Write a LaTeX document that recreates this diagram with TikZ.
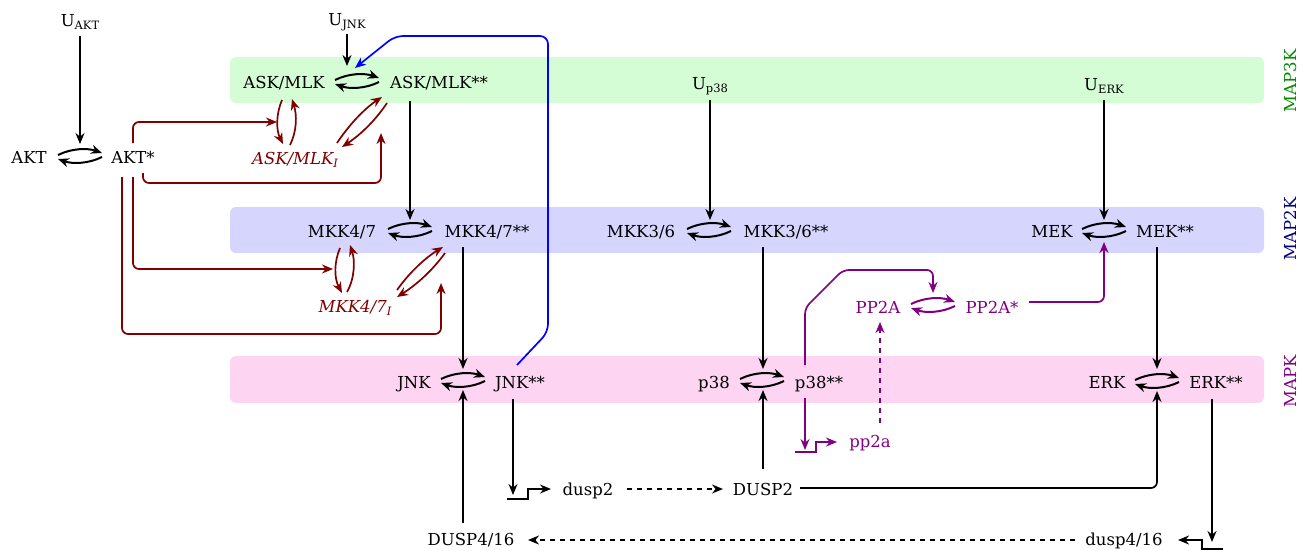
\documentclass[tikz,border=0pt]{standalone}
\usepackage{fontspec}
\setmainfont{DejaVu Serif}
\usetikzlibrary{arrows.meta}
\definecolor{bandG}{RGB}{213,253,213}
\definecolor{bandB}{RGB}{213,213,253}
\definecolor{bandP}{RGB}{253,213,243}
\definecolor{dred}{RGB}{128,0,0}
\definecolor{purp}{RGB}{128,0,128}
\definecolor{labG}{RGB}{0,140,0}
\definecolor{labB}{RGB}{0,0,128}
\newcommand\mysub[1]{\raisebox{-0.35ex}{\fontsize{11.5}{12}\selectfont #1}}
\newcommand\mycyc[1]{%
  \draw[cyc] ([shift={(-22,-1)}]#1) .. controls ([shift={(-8,-8)}]#1) and ([shift={(8,-8)}]#1) .. ([shift={(22,-3)}]#1);
  \draw[cyc] ([shift={(22,1)}]#1) .. controls ([shift={(8,8)}]#1) and ([shift={(-8,8)}]#1) .. ([shift={(-22,3)}]#1);}
\begin{document}
\begin{tikzpicture}[x=1pt,y=-1pt,
  every node/.style={font=\fontsize{16.5}{20}\selectfont, inner sep=0pt, anchor=base},
  arr/.style={-{Stealth[length=11pt,width=9pt]}, line width=1.7pt},
  dasharr/.style={arr, dashed, dash pattern=on 5pt off 5pt},
  cyc/.style={-{Stealth[length=11pt,width=9pt]}, line width=2pt},
  rc/.style={rounded corners=6pt},
  band/.style={rounded corners=6pt},
  sidelab/.style={rotate=90, anchor=center}]
\useasboundingbox (0,0) rectangle (1313,550);
% bands
\fill[bandG,band] (230,57) rectangle (1264,103);
\fill[bandB,band] (230,207) rectangle (1264,253);
\fill[bandP,band] (230,356) rectangle (1264,403);
\node[sidelab,text=labG] (l3) at (1290,81) {MAP3K};
\node[sidelab,text=labB] (l2) at (1290,229) {MAP2K};
\node[sidelab,text=purp] (l1) at (1290,381) {MAPK};
% nodes
\node (uakt) at (80,26) {U\mysub{AKT}};
\node (akt) at (29,163) {AKT};
\node (akts) at (133,163) {AKT*};
\node (ujnk) at (347,25) {U\mysub{JNK}};
\node (ask) at (284,88) {ASK/MLK};
\node (asks) at (439,88) {ASK/MLK**};
\node[text=dred] (aski) at (295,164) {\textit{ASK/MLK\mysub{\itshape I}}};
\node (up38) at (710,89) {U\mysub{p38}};
\node (uerk) at (1104,90) {U\mysub{ERK}};
\node (mkk) at (342,237) {MKK4/7};
\node (mkks) at (487,237) {MKK4/7**};
\node[text=dred] (mkki) at (355,312) {\textit{MKK4/7\mysub{\itshape I}}};
\node (mkt) at (641,237) {MKK3/6};
\node (mkts) at (786,237) {MKK3/6**};
\node (mek) at (1052,237) {MEK};
\node (meks) at (1165,237) {MEK**};
\node[text=purp] (pp) at (878,313) {PP2A};
\node[text=purp] (pps) at (992,313) {PP2A*};
\node (jnk) at (414,388) {JNK};
\node (jnks) at (520,388) {JNK**};
\node (p38) at (714,388) {p38};
\node (p38s) at (819,388) {p38**};
\node (erk) at (1107,388) {ERK};
\node (erks) at (1216,388) {ERK**};
\node[text=purp] (ppg) at (870,447) {pp2a};
\node (dg) at (588,495) {dusp2};
\node (dp) at (763,495) {DUSP2};
\node (d4p) at (471,545) {DUSP4/16};
\node (d4g) at (1124,545) {dusp4/16};
% cycle centres
\coordinate (cAKT) at (80,156);
\coordinate (cASK) at (357,81);
\coordinate (cMKK) at (410,230);
\coordinate (cMKT) at (709,230);
\coordinate (cMEK) at (1104,230);
\coordinate (cPP) at (933,305);
\coordinate (cJNK) at (463,380);
\coordinate (cP38) at (762,380);
\coordinate (cERK) at (1157,381);
\mycyc{cAKT}\mycyc{cASK}\mycyc{cMKK}\mycyc{cMKT}\mycyc{cMEK}
\mycyc{cJNK}\mycyc{cP38}\mycyc{cERK}
\begin{scope}[purp]\mycyc{cPP}\end{scope}
% black vertical arrows
\draw[arr] (80,36) -- (80,144);
\draw[arr] (347,34) -- (347,66);
\draw[arr] (410,101) -- (410,220);
\draw[arr] (710,100) -- (710,220);
\draw[arr] (1104,100) -- (1104,220);
\draw[arr] (463,247) -- (463,369);
\draw[arr] (763,247) -- (763,369);
\draw[arr] (1157,247) -- (1157,369);
\draw[arr] (463,523) -- (463,390);
\draw[arr] (763,469) -- (763,390);
\draw[arr,rc] (800,488) -- (1157,488) -- (1157,391);
% gene JNK** -> dusp2
\coordinate (g1) at (513,495);
\draw[arr] (513,399) -- (g1);
\draw[arr, line width=1.8pt] (507,499) -- (528,499) -- (528,489) -- (551,489);
\draw[dasharr] (627,489) -- (723,489);
\draw[dasharr] (1075,540) -- (528,540);
% gene ERK** -> dusp4/16
\draw[arr] (1212,399) -- (1212,542);
\draw[arr, line width=1.8pt] (1223,549) -- (1202,549) -- (1202,540) -- (1178,540);
% purple
\draw[arr,purp] (805,398) -- (805,450);
\draw[arr,purp, line width=1.8pt] (795,452) -- (816,452) -- (816,442) -- (837,442);
\draw[arr,purp,rc] (805,365) -- (805,308) -- (843,270) -- (933,270) -- (933,293);
\draw[dasharr,purp] (880,423) -- (880,322);
\draw[arr,purp,rc] (1029,302) -- (1104,302) -- (1104,242);
% blue feedback
\draw[arr,blue,rounded corners=8pt] (517,365) -- (548,332) -- (548,36) -- (395,36) -- (355,68);
% dark red
\draw[arr,dred,rc] (133,143) -- (133,122) -- (277,122);
\draw[arr,dred,rc] (143,173) -- (143,183) -- (381,183) -- (381,133);
\draw[arr,dred,rc] (133,177) -- (133,269) -- (333,269);
\draw[arr,dred,rc] (122,177) -- (122,334) -- (441,334) -- (441,283);
% ASK <-> ASK_I
\draw[arr,dred] (282,100) .. controls (276,114) and (276,130) .. (283,144);
\draw[arr,dred] (290,145) .. controls (297,131) and (297,115) .. (292,99);
\draw[arr,dred] (337,143) .. controls (349,125) and (364,109) .. (382,97);
\draw[arr,dred] (387,103) .. controls (375,121) and (360,135) .. (342,147);
% MKK <-> MKK_I
\draw[arr,dred] (340,248) .. controls (334,262) and (334,278) .. (342,293);
\draw[arr,dred] (347,292) .. controls (355,278) and (355,260) .. (350,245);
\draw[arr,dred] (397,290) .. controls (409,273) and (425,258) .. (443,247);
\draw[arr,dred] (445,253) .. controls (432,271) and (416,285) .. (397,297);
\end{tikzpicture}
\end{document}
